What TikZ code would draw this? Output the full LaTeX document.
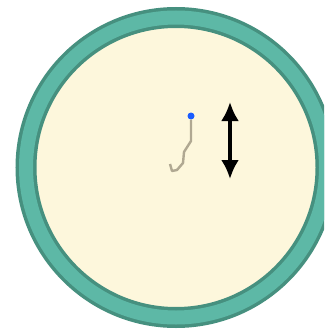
\documentclass[tikz,border=0pt]{standalone}
\usepackage{tikz}
\usetikzlibrary{arrows.meta}
\definecolor{ringdark}{HTML}{46907F}
\definecolor{ringlight}{HTML}{5DB8A6}
\definecolor{cream}{HTML}{FDF7DC}
\definecolor{trailgray}{HTML}{B0A892}
\definecolor{dotblue}{HTML}{1A5CFF}

\begin{document}
\begin{tikzpicture}[>=Latex,x=1pt,y=-1pt]
  \useasboundingbox (0,0) rectangle (324,329);
  \clip (0,0) rectangle (324,329);
  \coordinate (c) at (176,167.5);
  \fill[cream] (c) circle (141);
  \draw[ringdark,line width=21pt] (c) circle (150);
  \draw[ringlight,line width=14pt] (c) circle (150);
  \node[circle,fill=dotblue,inner sep=0pt,minimum size=7pt] (tip) at (191,116) {};
  \draw[trailgray,line width=2.4pt,line join=round] (tip) -- (191,141) -- (184,152) -- (183,163) -- (177,170) -- (172,171) -- (170,164);
  \coordinate (up) at (230,102);
  \coordinate (dn) at (230,179);
  \draw[line width=3.5pt,{Latex[length=19pt,width=18pt]}-{Latex[length=19pt,width=18pt]}] (up) -- (dn);
\end{tikzpicture}
\end{document}
